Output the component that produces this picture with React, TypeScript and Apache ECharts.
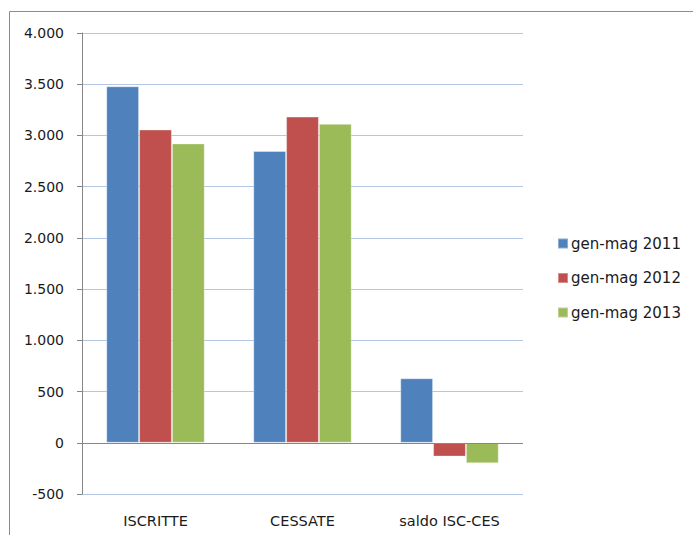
import React, { useEffect, useRef } from "react";
import * as echarts from "echarts";

const categories = ["ISCRITTE", "CESSATE", "saldo ISC-CES"];
const seriesNames = ["gen-mag 2011", "gen-mag 2012", "gen-mag 2013"];
const values2011 = [3480, 2848, 630];
const values2012 = [3058, 3184, -135];
const values2013 = [2922, 3113, -200];
const colors = ["#4f81bd", "#c0504d", "#9bbb59"];

const fmt = (v: number) => {
  const s = Math.abs(v).toString();
  const withDots = s.replace(/\B(?=(\d{3})+(?!\d))/g, ".");
  return (v < 0 ? "-" : "") + withDots;
};

export default function App() {
  const ref = useRef<HTMLDivElement>(null);
  useEffect(() => {
    if (!ref.current) return;
    const chart = echarts.init(ref.current, undefined, { renderer: "svg" });
    const font = "DejaVu Sans";
    const data = [values2011, values2012, values2013];
    chart.setOption({
      animation: false,
      backgroundColor: "#ffffff",
      textStyle: { fontFamily: font },
      graphic: [
        {
          type: "rect",
          shape: { x: 9.5, y: 11.5, width: 720, height: 560 },
          style: { fill: "none", stroke: "#8c8c8c", lineWidth: 1 },
          silent: true,
        },
      ],
      grid: { left: 82, right: 170, top: 33, bottom: 41 },
      legend: {
        orient: "vertical",
        left: 552,
        top: 231,
        itemWidth: 10,
        itemHeight: 10,
        itemGap: 19.5,
        icon: "rect",
        textStyle: { fontFamily: font, fontSize: 15, color: "#1a1a1a", padding: [0, 0, 0, -2] },
        data: seriesNames,
      },
      xAxis: {
        type: "category",
        data: categories,
        axisLine: { show: false },
        axisTick: { show: false },
        axisLabel: { fontFamily: font, fontSize: 14.5, color: "#1a1a1a", margin: 19 },
      },
      yAxis: {
        type: "value",
        min: -500,
        max: 4000,
        interval: 500,
        axisLine: { show: true, lineStyle: { color: "#868686", width: 1 } },
        axisTick: { show: true, length: 5, lineStyle: { color: "#868686" } },
        axisLabel: {
          fontFamily: font,
          fontSize: 14,
          color: "#1a1a1a",
          margin: 18,
          formatter: (v: number) => fmt(v),
        },
        splitLine: { show: true, lineStyle: { color: "#b4c5e6", width: 1 } },
      },
      series: seriesNames.map((name, i) => ({
        name,
        type: "bar",
        data: data[i],
        barGap: "0%",
        barCategoryGap: "33%",
        itemStyle: {
          color: colors[i],
          borderColor: "rgba(255,255,255,0.35)",
          borderWidth: 1,
        },
        markLine:
          i === 0
            ? {
                silent: true,
                symbol: "none",
                label: { show: false },
                lineStyle: { color: "#868686", type: "solid", width: 1 },
                data: [{ yAxis: 0 }],
              }
            : undefined,
      })),
    });
    return () => chart.dispose();
  }, []);
  return (
    <div
      ref={ref}
      style={{ position: "fixed", left: 0, top: 0, width: 693, height: 535 }}
    />
  );
}
